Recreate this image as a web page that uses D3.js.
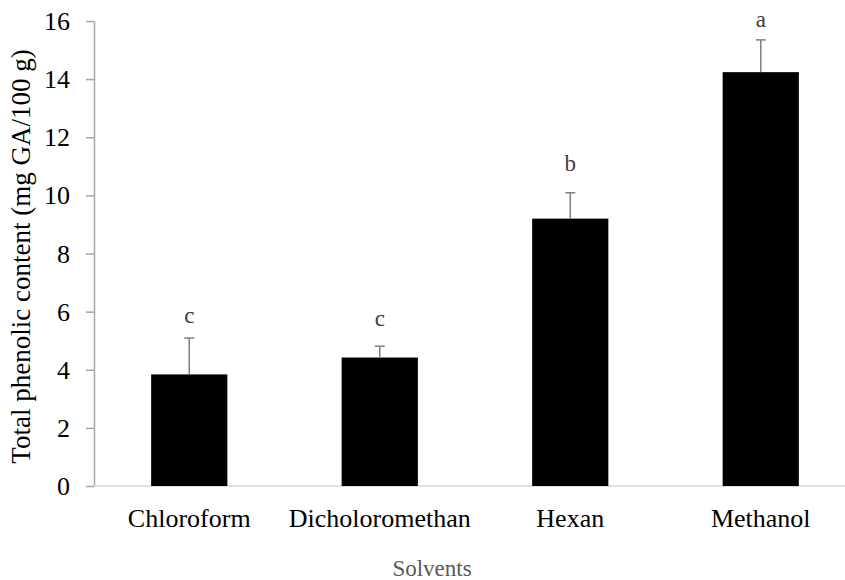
<!DOCTYPE html>
<html>
<head>
<meta charset="utf-8">
<script src="https://cdn.jsdelivr.net/npm/d3@7"></script>
<style>
  body { margin: 0; background: #fff; }
  svg { display: block; }
</style>
</head>
<body>
<svg id="chart" width="845" height="580" font-family="Liberation Serif, serif"></svg>
<script>
// data
const solvents = ['Chloroform', 'Dicholoromethan', 'Hexan', 'Methanol'];
const phenolic = [3.84, 4.42, 9.2, 14.24];
const errors = [1.25, 0.39, 0.89, 1.11];
const letters = ['c', 'c', 'b', 'a'];
const letterAt = [5.61, 5.52, 10.84, 15.8];
const yTicks = [0, 2, 4, 6, 8, 10, 12, 14, 16];

const serif = 'Liberation Serif, serif';
const svg = d3.select('#chart');
const plotLeft = 94, plotBottom = 486, plotTop = 21;

const x = d3.scaleBand()
  .domain(solvents)
  .range([plotLeft, plotLeft + 762])
  .paddingInner(0.6)
  .paddingOuter(0.3);

const y = d3.scaleLinear().domain([0, 16]).range([plotBottom, plotTop]);

// y axis
const yAxis = svg.append('g')
  .attr('transform', `translate(${plotLeft},0)`)
  .call(d3.axisLeft(y).tickValues(yTicks).tickSize(8).tickPadding(14).tickSizeOuter(0));
yAxis.attr('font-family', serif).attr('font-size', 26);
yAxis.select('.domain').attr('stroke', '#a6a6a6').attr('stroke-width', 1.5);
yAxis.selectAll('.tick line').attr('stroke', '#a6a6a6').attr('stroke-width', 1.5);
yAxis.selectAll('.tick text')
  .attr('fill', '#000')
  .attr('x', -24)
  .attr('dy', '0.33em')
  .style('font-family', serif)
  .style('font-size', '26px');

// x axis line
svg.append('line')
  .attr('x1', plotLeft).attr('x2', 845)
  .attr('y1', plotBottom).attr('y2', plotBottom)
  .attr('stroke', '#d9d9d9').attr('stroke-width', 1.5);

// bars
svg.selectAll('rect.bar')
  .data(solvents)
  .enter()
  .append('rect')
  .attr('class', 'bar')
  .attr('x', (d) => x(d))
  .attr('y', (d, i) => y(phenolic[i]))
  .attr('width', x.bandwidth())
  .attr('height', (d, i) => plotBottom - y(phenolic[i]))
  .attr('fill', '#000');

// error bars
const err = svg.selectAll('g.err')
  .data(solvents)
  .enter()
  .append('g')
  .attr('class', 'err')
  .attr('stroke', '#7f7f7f')
  .attr('stroke-width', 1.5);
err.append('line')
  .attr('x1', (d) => x(d) + x.bandwidth() / 2)
  .attr('x2', (d) => x(d) + x.bandwidth() / 2)
  .attr('y1', (d, i) => y(phenolic[i]))
  .attr('y2', (d, i) => y(phenolic[i] + errors[i]));
err.append('line')
  .attr('x1', (d) => x(d) + x.bandwidth() / 2 - 5)
  .attr('x2', (d) => x(d) + x.bandwidth() / 2 + 5)
  .attr('y1', (d, i) => y(phenolic[i] + errors[i]))
  .attr('y2', (d, i) => y(phenolic[i] + errors[i]));

// significance letters
svg.selectAll('text.letter')
  .data(solvents)
  .enter()
  .append('text')
  .attr('class', 'letter')
  .attr('x', (d) => x(d) + x.bandwidth() / 2)
  .attr('y', (d, i) => y(letterAt[i]))
  .attr('text-anchor', 'middle')
  .attr('fill', '#404040')
  .style('font-size', '23px')
  .text((d, i) => letters[i]);

// category labels
svg.selectAll('text.cat')
  .data(solvents)
  .enter()
  .append('text')
  .attr('class', 'cat')
  .attr('x', (d) => x(d) + x.bandwidth() / 2)
  .attr('y', 527)
  .attr('text-anchor', 'middle')
  .attr('fill', '#000')
  .style('font-size', '26px')
  .text((d) => d);

// axis titles
svg.append('text')
  .attr('transform', `translate(30,${(plotTop + plotBottom) / 2 + 3}) rotate(-90)`)
  .attr('text-anchor', 'middle')
  .attr('fill', '#000')
  .style('font-size', '27px')
  .text('Total phenolic content (mg GA/100 g)');

svg.append('text')
  .attr('x', 432)
  .attr('y', 576)
  .attr('text-anchor', 'middle')
  .attr('fill', '#595959')
  .style('font-size', '23px')
  .text('Solvents');
</script>
</body>
</html>
